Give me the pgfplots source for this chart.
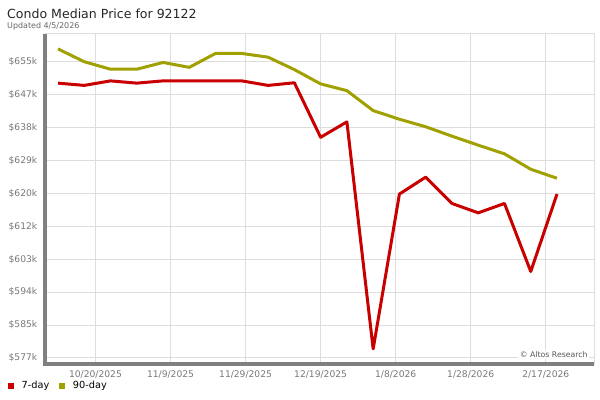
\documentclass[border=0pt]{standalone}
\usepackage{fontspec}
\setmainfont{DejaVu Sans}
\usepackage{pgfplots}
\pgfplotsset{compat=1.18}
\definecolor{redline}{RGB}{200,0,0}
\definecolor{oliveline}{RGB}{160,160,0}
\definecolor{gridc}{RGB}{221,221,221}
\definecolor{axisgray}{RGB}{128,128,128}
\definecolor{ticktext}{RGB}{120,120,120}
\begin{document}
\begin{tikzpicture}
\useasboundingbox (0,0) rectangle (600bp,400bp);
\node[anchor=base west, inner sep=0pt, font=\fontsize{12.6}{14}\selectfont, text=black!85] at (7bp,381.3bp) {Condo Median Price for 92122};
\node[anchor=base west, inner sep=0pt, font=\fontsize{8}{9}\selectfont, text=black!60] at (7bp,371bp) {Updated 4/5/2026};
\begin{axis}[
  at={(45bp,36bp)}, anchor=south west,
  scale only axis, width=549bp, height=330bp,
  xmin=-13.46, xmax=132.86, ymin=575.4, ymax=663.17,
  clip=false,
  xtick={0,20,40,60,80,100,120},
  xticklabels={10/20/2025,11/9/2025,11/29/2025,12/19/2025,1/8/2026,1/28/2026,2/17/2026},
  ytick={577,585.75,594.5,603.25,612,620.75,629.5,638.25,647,655.75},
  yticklabels={\$577k,\$585k,\$594k,\$603k,\$612k,\$620k,\$629k,\$638k,\$647k,\$655k},
  grid=major,
  major grid style={draw=gridc, line width=1bp},
  axis line style={draw=gridc, line width=1bp},
  tick style={draw=none},
  yticklabel style={font=\fontsize{9.2}{10}\selectfont, text=ticktext, anchor=east, inner sep=0pt, xshift=-7.5bp},
  xticklabel style={font=\fontsize{9.2}{10}\selectfont, text=ticktext, anchor=north, inner sep=0pt, yshift=-6bp},
  legend columns=2,
  legend style={draw=none, fill=none, inner sep=0pt, outer sep=0pt,
    at={(axis description cs:0,0)}, anchor=west, xshift=-37bp, yshift=-22bp,
    nodes={inner sep=0pt, font=\fontsize{9.8}{11}\selectfont, text=black},
    /tikz/every odd column/.append style={column sep=8bp},
    /tikz/every even column/.append style={column sep=10bp}},
  legend image code/.code={\fill[draw=none] (0bp,-2.8bp) rectangle (5.6bp,2.8bp);},
  every axis plot/.append style={line width=3bp, line join=round},
]
\addplot[redline] coordinates {
(-10,650.1) (-3,649.5) (4,650.7) (11,650.1) (18,650.7) (25,650.7) (32,650.7) (39,650.7) (46,649.5) (53,650.2)
(60,635.7) (67,639.8) (74,579.4) (81,620.6) (88,625.1) (95,618.1) (102,615.6) (109,618.1) (116,600.0) (123,620.6)};
\addlegendentry{7-day}
\addplot[oliveline] coordinates {
(-10,659.2) (-3,655.8) (4,653.8) (11,653.8) (18,655.6) (25,654.3) (32,658.0) (39,658.0) (46,657.0) (53,653.7)
(60,649.9) (67,648.1) (74,642.8) (81,640.5) (88,638.5) (95,636.0) (102,633.6) (109,631.3) (116,627.2) (123,624.8)};
\addlegendentry{90-day}
\node[anchor=base east, fill=white, inner sep=1.5bp, font=\fontsize{7.8}{9}\selectfont, text=black!65] at (rel axis cs:0.9915,0.0195) {© Altos Research};
\draw[axisgray, line width=3bp] (rel axis cs:0,1) -- (rel axis cs:0,0) -- (rel axis cs:1,0);
\end{axis}
\end{tikzpicture}
\end{document}
